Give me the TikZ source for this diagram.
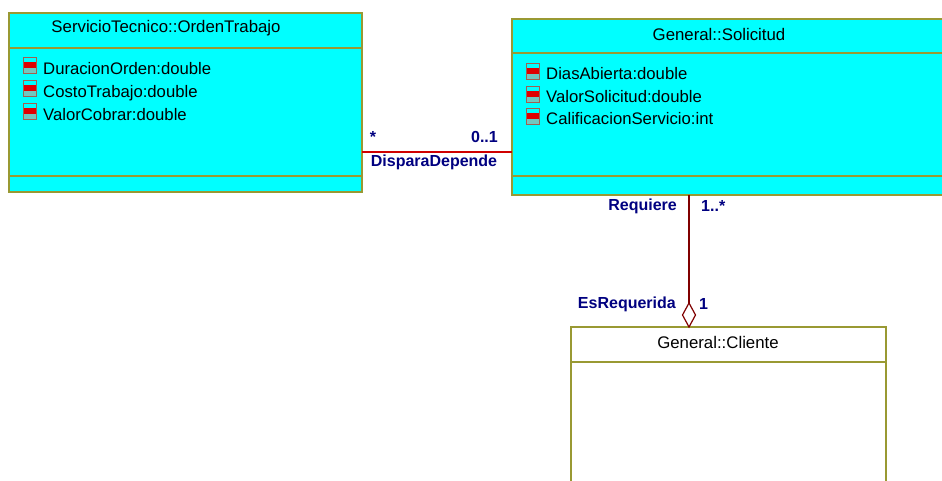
\documentclass[tikz,border=0pt]{standalone}
\usepackage{fontspec}
\setmainfont{Liberation Sans}
\usetikzlibrary{positioning}
\definecolor{umlfill}{HTML}{00FFFF}
\definecolor{umlborder}{HTML}{999933}
\definecolor{assocred}{HTML}{D00000}
\definecolor{aggred}{HTML}{800000}
\definecolor{rolenavy}{HTML}{000080}
\definecolor{iconred}{HTML}{E00000}
\definecolor{iconedge}{HTML}{A06050}
\definecolor{iconlow}{HTML}{70C8C0}
\tikzset{
  classbox/.style={draw=umlborder, line width=1.4pt, inner sep=0pt, outer sep=0pt, anchor=north west},
  compline/.style={draw=umlborder, line width=1.4pt},
  classname/.style={font=\fontsize{16.8}{19}\selectfont, inner sep=0pt},
  attr/.style={font=\fontsize{16.7}{19}\selectfont, inner sep=0pt, anchor=base west},
  role/.style={font=\fontsize{16}{19}\selectfont\bfseries, text=rolenavy, inner sep=0pt},
  assoc/.style={draw=assocred, line width=1.2pt},
  aggline/.style={draw=aggred, line width=1.2pt},
}
% attribute marker: small box, red band between two cyan bands
\newcommand{\attricon}[2]{%
  \fill[umlfill] (#1,#2) rectangle ++(13,16);
  \fill[iconlow] (#1,#2+10) rectangle ++(13,6);
  \fill[iconred] (#1,#2+4) rectangle ++(13,6);
  \draw[iconedge, line width=1pt] (#1,#2) rectangle ++(13,16);
}
\begin{document}
\begin{tikzpicture}[x=1pt, y=-1pt]
\useasboundingbox (0,0) rectangle (942,481);
\clip (0,0) rectangle (942,481);

% ---- ServicioTecnico::OrdenTrabajo ----
\node[classbox, fill=umlfill, minimum width=353pt, minimum height=179pt] (orden) at (9,13) {};
\draw[compline] (9,48) -- (362,48);
\draw[compline] (9,176) -- (362,176);
\node[classname] (ordenname) at (166,28) {ServicioTecnico::OrdenTrabajo};
\attricon{23}{58}
\attricon{23}{81}
\attricon{23}{104}
\node[attr] (oa1) at (43,75) {DuracionOrden:double};
\node[attr] (oa2) at (43,98) {CostoTrabajo:double};
\node[attr] (oa3) at (43,121) {ValorCobrar:double};

% ---- General::Solicitud ----
\node[classbox, fill=umlfill, minimum width=440pt, minimum height=176pt] (solicitud) at (512,19) {};
\draw[compline] (512,53) -- (952,53);
\draw[compline] (512,176) -- (952,176);
\node[classname] (solname) at (719,34) {General::Solicitud};
\attricon{526}{64}
\attricon{526}{87}
\attricon{526}{109}
\node[attr] (sa1) at (546,80) {DiasAbierta:double};
\node[attr] (sa2) at (546,103) {ValorSolicitud:double};
\node[attr] (sa3) at (546,125) {CalificacionServicio:int};

% ---- General::Cliente ----
\node[classbox, fill=white, minimum width=315pt, minimum height=170pt] (cliente) at (571,327) {};
\draw[compline] (571,362) -- (886,362);
\node[classname] (clientename) at (718,342) {General::Cliente};

% ---- association OrdenTrabajo -- Solicitud ----
\coordinate (aL) at (orden.east |- 0,152);
\coordinate (aR) at (solicitud.west |- 0,152);
\draw[assoc] (aL) -- (aR);
\node[role] (mulStar) at (373,137) {*};
\node[role, anchor=east] (mul01) at (498,137) {0..1};
\node[role] (dispara) at (434,162) {DisparaDepende};

% ---- aggregation Solicitud -- Cliente ----
\coordinate (gTop) at (689,195);
\coordinate (dTop) at (689,303);
\coordinate (dBot) at (689,327);
\draw[aggline] (gTop) -- (dTop);
\draw[aggline, fill=white, line join=miter] (dTop) -- (695.5,315) -- (dBot) -- (682.5,315) -- cycle;
\node[role, anchor=east] (requiere) at (677,206) {Requiere};
\node[role, anchor=west] (mul1n) at (701,206) {1..*};
\node[role, anchor=east] (esreq) at (676,304) {EsRequerida};
\node[role, anchor=west] (mul1) at (699,304) {1};
\end{tikzpicture}
\end{document}
